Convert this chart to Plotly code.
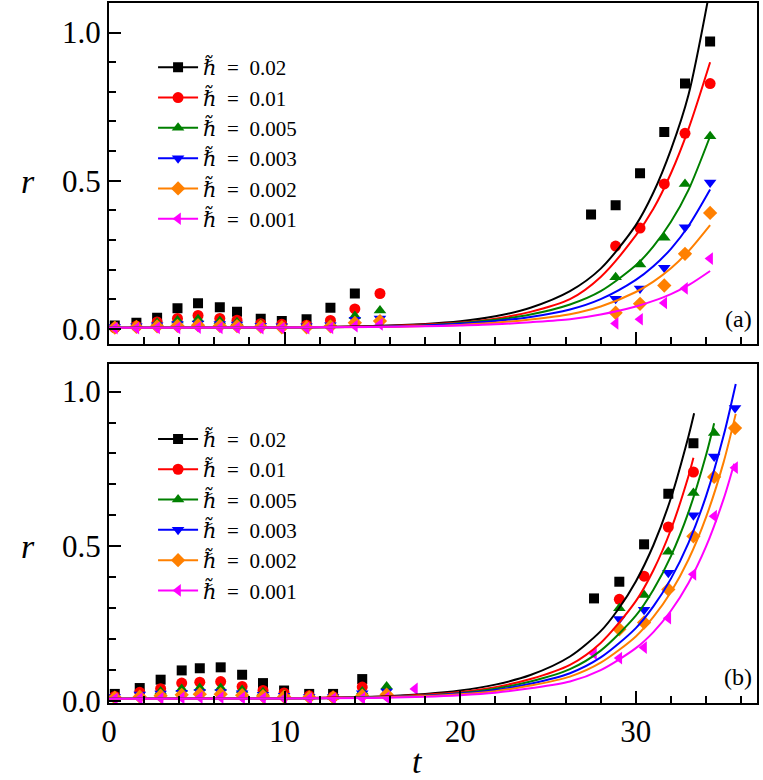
import plotly.graph_objects as go

# ---------------- panel (a) data ----------------
TA_EARLY = [0.33, 1.56, 2.74, 3.90, 5.07, 6.31, 7.29, 8.64, 9.84, 11.25, 12.61, 14.00, 15.43]
TA_LATE_BLACK = [27.45, 28.85, 30.24, 31.62, 32.80, 34.23]
TA_LATE = [28.85, 30.24, 31.62, 32.80, 34.23]

A_BLACK_EARLY = [0.011, 0.020, 0.037, 0.069, 0.086, 0.073, 0.057, 0.034, 0.026, 0.032, 0.071, 0.119]
A_BLACK_LATE = [0.386, 0.417, 0.525, 0.664, 0.828, 0.970]
A_RED_EARLY = [0.003, 0.009, 0.023, 0.035, 0.045, 0.035, 0.029, 0.017, 0.015, 0.012, 0.028, 0.067, 0.119]
A_RED_LATE = [0.279, 0.340, 0.489, 0.660, 0.828]
A_GREEN_EARLY = [0.005, 0.008, 0.020, 0.028, 0.032, 0.026, 0.022, 0.015, 0.009, 0.009, 0.015, 0.043, 0.062]
A_GREEN_LATE = [0.174, 0.217, 0.307, 0.489, 0.650]
A_BLUE_EARLY = [0.006, 0.008, 0.012, 0.016, 0.018, 0.016, 0.014, 0.010, 0.008, 0.008, 0.012, 0.030, 0.035]
A_BLUE_LATE = [0.101, 0.136, 0.206, 0.343, 0.494]
A_ORANGE_EARLY = [0.004, 0.006, 0.008, 0.010, 0.012, 0.010, 0.009, 0.007, 0.005, 0.005, 0.008, 0.020, 0.026]
A_ORANGE_LATE = [0.054, 0.084, 0.146, 0.253, 0.391]
A_MAGENTA_EARLY = [0.002, 0.002, 0.003, 0.003, 0.004, 0.003, 0.003, 0.002, 0.002, 0.002, 0.003, 0.009, 0.015]
A_MAGENTA_LATE = [0.018, 0.032, 0.087, 0.136, 0.237]

CT_A = [0, 10, 15, 18, 20, 22, 24, 26.25, 28, 30, 31, 32, 33, 34.23]
A_BLACK_CURVE = [0.003, 0.004, 0.009, 0.016, 0.025, 0.042, 0.071, 0.127, 0.203, 0.350, 0.460, 0.605, 0.790, 1.150]
A_RED_CURVE = [0.003, 0.004, 0.008, 0.014, 0.021, 0.034, 0.057, 0.100, 0.175, 0.315, 0.405, 0.525, 0.675, 0.900]
A_GREEN_CURVE = [0.003, 0.004, 0.007, 0.012, 0.019, 0.030, 0.048, 0.082, 0.127, 0.214, 0.278, 0.361, 0.469, 0.650]
A_BLUE_CURVE = [0.003, 0.004, 0.007, 0.011, 0.017, 0.026, 0.040, 0.065, 0.100, 0.165, 0.211, 0.270, 0.347, 0.470]
A_ORANGE_CURVE = [0.003, 0.004, 0.006, 0.009, 0.013, 0.020, 0.031, 0.049, 0.075, 0.124, 0.159, 0.204, 0.262, 0.350]
A_MAGENTA_CURVE = [0.003, 0.004, 0.006, 0.008, 0.011, 0.015, 0.022, 0.032, 0.048, 0.075, 0.094, 0.117, 0.147, 0.195]

# ---------------- panel (b) data ----------------
TB_EARLY = [0.33, 1.75, 2.94, 4.14, 5.17, 6.36, 7.58, 8.77, 9.97, 11.40, 12.76, 14.42, 15.81, 17.42]
TB_LATE_BLACK = [27.62, 29.06, 30.47, 31.85, 33.28]
TB_LATE_RED = [29.06, 30.47, 31.85, 33.28]
TB_LATE_GREEN = [29.06, 30.47, 31.85, 33.28, 34.46]
TB_LATE = [29.06, 30.47, 31.85, 33.28, 34.46, 35.65]
TB_LATE_MAGENTA = [27.62, 29.06, 30.47, 31.85, 33.28, 34.46, 35.65]

B_BLACK_EARLY = [0.022, 0.041, 0.068, 0.098, 0.105, 0.108, 0.084, 0.057, 0.033, 0.022, 0.022, 0.070]
B_BLACK_LATE = [0.331, 0.385, 0.506, 0.670, 0.833]
B_RED_EARLY = [0.014, 0.027, 0.039, 0.057, 0.060, 0.062, 0.046, 0.033, 0.025, 0.016, 0.013, 0.044]
B_RED_LATE = [0.328, 0.403, 0.562, 0.740]
B_GREEN_EARLY = [0.012, 0.018, 0.030, 0.038, 0.041, 0.041, 0.035, 0.027, 0.020, 0.013, 0.013, 0.030, 0.046]
B_GREEN_LATE = [0.299, 0.342, 0.482, 0.672, 0.866]
B_BLUE_EARLY = [0.012, 0.020, 0.023, 0.026, 0.028, 0.028, 0.024, 0.019, 0.016, 0.012, 0.012, 0.024, 0.030]
B_BLUE_LATE = [0.264, 0.294, 0.414, 0.600, 0.790, 0.947]
B_ORANGE_EARLY = [0.010, 0.013, 0.016, 0.019, 0.021, 0.021, 0.018, 0.015, 0.013, 0.011, 0.011, 0.016, 0.020]
B_ORANGE_LATE = [0.231, 0.253, 0.360, 0.532, 0.724, 0.882]
B_MAGENTA_EARLY = [0.006, 0.007, 0.008, 0.009, 0.010, 0.010, 0.009, 0.008, 0.007, 0.007, 0.007, 0.008, 0.010, 0.038]
B_MAGENTA_LATE = [0.152, 0.138, 0.172, 0.267, 0.409, 0.597, 0.754]

CT_B_BLACK = [0, 10, 15, 18, 20, 22, 24, 26.25, 28, 29, 30, 31, 32, 33, 33.32]
B_BLACK_CURVE = [0.006, 0.008, 0.013, 0.022, 0.033, 0.052, 0.083, 0.143, 0.225, 0.296, 0.386, 0.503, 0.656, 0.856, 0.930]
CT_B_RED = [0, 10, 15, 18, 20, 22, 24, 26.25, 28, 30, 31, 32, 33, 33.28]
B_RED_CURVE = [0.006, 0.008, 0.012, 0.019, 0.028, 0.044, 0.070, 0.116, 0.187, 0.322, 0.422, 0.554, 0.727, 0.786]
CT_B_GREEN = [0, 10, 15, 18, 20, 22, 24, 26.25, 28, 30, 31, 32, 33, 34, 34.46]
B_GREEN_CURVE = [0.006, 0.007, 0.011, 0.017, 0.025, 0.039, 0.062, 0.102, 0.162, 0.275, 0.359, 0.468, 0.610, 0.795, 0.898]
CT_B_BLUE = [0, 10, 15, 18, 20, 22, 24, 26.25, 28, 30, 31, 32, 33, 34, 35, 35.69]
B_BLUE_CURVE = [0.006, 0.007, 0.011, 0.016, 0.023, 0.035, 0.055, 0.089, 0.140, 0.235, 0.305, 0.395, 0.511, 0.662, 0.858, 1.025]
CT_B_ORANGE = [0, 10, 15, 18, 20, 22, 24, 26.25, 28, 30, 31, 32, 33, 34, 35, 35.69]
B_ORANGE_CURVE = [0.006, 0.007, 0.010, 0.015, 0.021, 0.031, 0.049, 0.078, 0.123, 0.208, 0.271, 0.352, 0.457, 0.594, 0.772, 0.928]
CT_B_MAGENTA = [0, 10, 15, 18, 20, 22, 24, 26.25, 28, 30, 31, 32, 33, 34, 35, 35.6]
B_MAGENTA_CURVE = [0.006, 0.007, 0.009, 0.013, 0.018, 0.026, 0.040, 0.062, 0.099, 0.170, 0.222, 0.291, 0.381, 0.499, 0.653, 0.767]

LABELS = ["0.02", "0.01", "0.005", "0.003", "0.002", "0.001"]
COLORS = ["#000000", "#ff0000", "#008000", "#0000ff", "#ff8000", "#ff00ff"]
SYMBOLS = ["square", "circle", "triangle-up", "triangle-down", "diamond", "triangle-left"]
SIZES = [10, 11, 11, 11, 11, 11]

FONT = "'Liberation Serif', 'DejaVu Serif', 'Times New Roman', serif"

panels = [
    dict(xa="x", ya="y", legend="legend",
         pts=[(TA_EARLY[:12] + TA_LATE_BLACK, A_BLACK_EARLY + A_BLACK_LATE),
              (TA_EARLY + TA_LATE, A_RED_EARLY + A_RED_LATE),
              (TA_EARLY + TA_LATE, A_GREEN_EARLY + A_GREEN_LATE),
              (TA_EARLY + TA_LATE, A_BLUE_EARLY + A_BLUE_LATE),
              (TA_EARLY + TA_LATE, A_ORANGE_EARLY + A_ORANGE_LATE),
              (TA_EARLY + TA_LATE, A_MAGENTA_EARLY + A_MAGENTA_LATE)],
         curves=[(CT_A, A_BLACK_CURVE), (CT_A, A_RED_CURVE), (CT_A, A_GREEN_CURVE),
                 (CT_A, A_BLUE_CURVE), (CT_A, A_ORANGE_CURVE), (CT_A, A_MAGENTA_CURVE)]),
    dict(xa="x2", ya="y2", legend="legend2",
         pts=[(TB_EARLY[:12] + TB_LATE_BLACK, B_BLACK_EARLY + B_BLACK_LATE),
              (TB_EARLY[:12] + TB_LATE_RED, B_RED_EARLY + B_RED_LATE),
              (TB_EARLY[:13] + TB_LATE_GREEN, B_GREEN_EARLY + B_GREEN_LATE),
              (TB_EARLY[:13] + TB_LATE, B_BLUE_EARLY + B_BLUE_LATE),
              (TB_EARLY[:13] + TB_LATE, B_ORANGE_EARLY + B_ORANGE_LATE),
              (TB_EARLY + TB_LATE_MAGENTA, B_MAGENTA_EARLY + B_MAGENTA_LATE)],
         curves=[(CT_B_BLACK, B_BLACK_CURVE), (CT_B_RED, B_RED_CURVE), (CT_B_GREEN, B_GREEN_CURVE),
                 (CT_B_BLUE, B_BLUE_CURVE), (CT_B_ORANGE, B_ORANGE_CURVE), (CT_B_MAGENTA, B_MAGENTA_CURVE)]),
]

EQ = "\u2002=\u2002"

fig = go.Figure()
for p in panels:
    for i, (xs, ys) in enumerate(p["pts"]):
        fig.add_trace(go.Scatter(x=xs, y=ys, mode="markers", xaxis=p["xa"], yaxis=p["ya"],
                                 marker=dict(symbol=SYMBOLS[i], size=SIZES[i], color=COLORS[i], line=dict(width=0)),
                                 showlegend=False, cliponaxis=True))
    for i, (xs, ys) in enumerate(p["curves"]):
        fig.add_trace(go.Scatter(x=xs, y=ys, mode="lines", xaxis=p["xa"], yaxis=p["ya"],
                                 line=dict(color=COLORS[i], width=2, shape="spline", smoothing=0.8),
                                 showlegend=False))
    for i in range(6):
        fig.add_trace(go.Scatter(x=[None], y=[None], mode="lines+markers", xaxis=p["xa"], yaxis=p["ya"],
                                 line=dict(color=COLORS[i], width=2),
                                 marker=dict(symbol=SYMBOLS[i], size=SIZES[i], color=COLORS[i]),
                                 name="<i>ℏ\u0303</i>" + EQ + LABELS[i], legend=p["legend"],
                                 legendgroup=p["legend"] + str(i)))

axis_common = dict(showline=True, linewidth=2, linecolor="black", mirror=True,
                   ticks="inside", ticklen=12, tickwidth=2, tickcolor="black",
                   showgrid=False, zeroline=False,
                   tickfont=dict(family=FONT, size=31, color="black"))
xcommon = dict(axis_common, range=[0, 36.9], dtick=10, tick0=0,
               minor=dict(dtick=2, ticks="inside", ticklen=7, tickwidth=2, tickcolor="black", showgrid=False))
ycommon = dict(axis_common, dtick=0.5, tick0=0, tickformat=".1f",
               minor=dict(dtick=0.1, ticks="inside", ticklen=7, tickwidth=2, tickcolor="black", showgrid=False))

fig.update_layout(
    width=763, height=780,
    margin=dict(l=109, r=6, t=1, b=77),
    paper_bgcolor="white", plot_bgcolor="white",
    font=dict(family=FONT, color="black"),
    xaxis=dict(xcommon, anchor="y", showticklabels=False),
    yaxis=dict(ycommon, domain=[0.5135, 1.0], range=[-0.05, 1.10], anchor="x"),
    xaxis2=dict(xcommon, anchor="y2"),
    yaxis2=dict(ycommon, domain=[0.0, 0.4841], range=[-0.0074, 1.089], anchor="x2"),
    legend=dict(x=0.068, y=0.937, xanchor="left", yanchor="top", bgcolor="rgba(0,0,0,0)",
                font=dict(family=FONT, size=21, color="black"), itemwidth=40, tracegroupgap=0),
    legend2=dict(x=0.068, y=0.406, xanchor="left", yanchor="top", bgcolor="rgba(0,0,0,0)",
                 font=dict(family=FONT, size=21, color="black"), itemwidth=40, tracegroupgap=0),
    annotations=[
        dict(text="(a)", x=0.996, y=0.5486, xref="paper", yref="paper", showarrow=False,
             xanchor="right", yanchor="middle",
             font=dict(family=FONT, size=24, color="black")),
        dict(text="(b)", x=0.996, y=0.0374, xref="paper", yref="paper", showarrow=False,
             xanchor="right", yanchor="middle",
             font=dict(family=FONT, size=24, color="black")),
        dict(text="<i>r</i>", x=-0.125, y=0.745, xref="paper", yref="paper", showarrow=False,
             xanchor="center", yanchor="middle",
             font=dict(family=FONT, size=34, color="black")),
        dict(text="<i>r</i>", x=-0.125, y=0.224, xref="paper", yref="paper", showarrow=False,
             xanchor="center", yanchor="middle",
             font=dict(family=FONT, size=34, color="black")),
        dict(text="<i>t</i>", x=(418 - 109.3) / 647.7, y=-0.0836, xref="paper", yref="paper", showarrow=False,
             xanchor="center", yanchor="middle",
             font=dict(family=FONT, size=34, color="black")),
    ],
)

fig.write_html("out.html")
